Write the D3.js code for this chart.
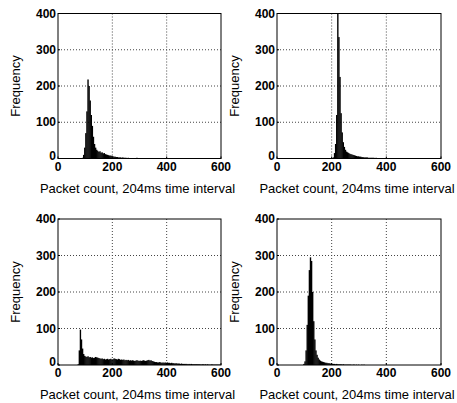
<!DOCTYPE html>
<html>
<head>
<meta charset="utf-8">
<script src="https://cdn.jsdelivr.net/npm/d3@7"></script>
<style>
  html, body { margin: 0; padding: 0; background: #fff; }
  svg { display: block; font-family: "Liberation Sans", Arial, sans-serif; }
</style>
</head>
<body>
<div id="chart"></div>
<script>
// histogram counts, bins of BIN_WIDTH packets starting at the given value
const BIN_WIDTH = 4;

const hist1Start = 88;
const hist1 = [2, 10, 30, 70, 130, 218, 200, 160, 120, 90, 60, 40, 30, 24, 21, 18, 20, 16, 17, 14,
  15, 12, 11, 10, 9, 8, 8, 7, 6, 5, 5, 4, 4, 3, 3, 3, 2, 3, 2, 2,
  2, 1, 2, 1, 1, 1, 1, 1, 1, 1, 2, 1, 1, 1, 0, 1, 0, 1, 0, 0,
  1, 0, 0, 0, 1, 0, 0, 0, 0, 1];

const hist2Start = 204;
const hist2 = [3, 15, 40, 120, 420, 335, 225, 125, 72, 45, 32, 24, 19, 17, 15, 13, 12, 11, 10, 9,
  8, 7, 6, 6, 5, 5, 4, 4, 3, 3, 3, 3, 2, 2, 2, 2, 2, 2, 1, 2,
  1, 1, 1, 1, 1, 1, 1, 1, 1, 1, 0, 1, 1, 0, 1, 0, 1, 0, 0, 1,
  0, 1, 0, 0, 1, 0, 0, 0, 0, 1, 0, 0, 1];

const hist3Start = 72;
const hist3 = [2, 40, 97, 70, 45, 30, 25, 23, 22, 24, 21, 22, 20, 21, 19, 20, 22, 21, 20, 19,
  18, 17, 18, 16, 17, 15, 16, 17, 15, 16, 17, 15, 16, 18, 17, 16, 15, 17, 16, 14,
  15, 14, 15, 13, 14, 13, 14, 12, 13, 12, 13, 12, 11, 12, 13, 12, 11, 12, 11, 12,
  13, 12, 11, 12, 13, 14, 12, 13, 11, 10, 9, 8, 8, 7, 7, 8, 7, 6, 7, 6,
  7, 6, 7, 6, 6, 5, 6, 5, 5, 4, 5, 4, 4, 4, 3, 4, 3, 3, 3, 3,
  3, 2, 3, 2, 3, 2, 2, 2, 2, 2, 2, 2, 2, 1, 2, 2, 1, 2, 1, 2,
  1, 1, 1, 2, 1, 1, 1, 1, 1, 1, 1, 1];

const hist4Start = 96;
const hist4 = [3, 10, 40, 110, 190, 260, 295, 285, 200, 120, 70, 40, 28, 20, 15, 12, 10, 9, 8, 7,
  6, 6, 5, 5, 4, 4, 3, 3, 3, 2, 3, 2, 2, 2, 2, 1, 2, 1, 1, 1,
  1, 1, 1, 1, 0, 1, 1, 0, 1, 0, 1, 0, 0, 1, 0, 1];

const xTicks = [0, 200, 400, 600];
const yTicks = [0, 100, 200, 300, 400];
const xGrid = [200, 400];
const yGrid = [100, 200, 300];
const xTitle = 'Packet count, 204ms time interval';
const yTitle = 'Frequency';

const W = 457, H = 403;

const svg = d3.select('#chart').append('svg')
  .attr('width', W)
  .attr('height', H);

svg.append('rect').attr('width', W).attr('height', H).attr('fill', '#fff');

// plot-area boxes for the four panels
const panels = [
  { counts: hist1, start: hist1Start, x0: 58, x1: 221, y0: 13.5, y1: 158.5 },
  { counts: hist2, start: hist2Start, x0: 277, x1: 441, y0: 13.5, y1: 158.5 },
  { counts: hist3, start: hist3Start, x0: 58, x1: 221, y0: 219, y1: 365 },
  { counts: hist4, start: hist4Start, x0: 277, x1: 441, y0: 219, y1: 365 },
];

panels.forEach((p, i) => drawPanel(p, i));

function drawPanel(p, i) {
  const x = d3.scaleLinear().domain([0, 600]).range([p.x0, p.x1]);
  const y = d3.scaleLinear().domain([0, 400]).range([p.y1, p.y0]);
  const g = svg.append('g');

  const clipId = 'clip' + i;
  g.append('clipPath').attr('id', clipId)
    .append('rect')
    .attr('x', p.x0).attr('y', p.y0)
    .attr('width', p.x1 - p.x0).attr('height', p.y1 - p.y0);

  // dotted grid
  g.selectAll('.gx').data(xGrid).join('line')
    .attr('x1', d => x(d)).attr('x2', d => x(d))
    .attr('y1', p.y0).attr('y2', p.y1)
    .attr('stroke', '#444').attr('stroke-width', 1)
    .attr('stroke-dasharray', '1,2');
  g.selectAll('.gy').data(yGrid).join('line')
    .attr('x1', p.x0).attr('x2', p.x1)
    .attr('y1', d => y(d)).attr('y2', d => y(d))
    .attr('stroke', '#444').attr('stroke-width', 1)
    .attr('stroke-dasharray', '1,2');

  // histogram bars
  const bins = p.counts.map((c, k) => ({ lo: p.start + k * BIN_WIDTH, c }));
  g.append('g').attr('clip-path', `url(#${clipId})`)
    .selectAll('rect').data(bins.filter(b => b.c > 0)).join('rect')
    .attr('x', d => x(d.lo))
    .attr('width', d => x(d.lo + BIN_WIDTH) - x(d.lo) + 0.3)
    .attr('y', d => y(d.c))
    .attr('height', d => y(0) - y(d.c))
    .attr('fill', '#000');

  // box
  g.append('rect')
    .attr('x', p.x0).attr('y', p.y0)
    .attr('width', p.x1 - p.x0).attr('height', p.y1 - p.y0)
    .attr('fill', 'none').attr('stroke', '#000').attr('stroke-width', 1);

  // inward ticks
  g.selectAll('.tx').data(xTicks).join('line')
    .attr('x1', d => x(d)).attr('x2', d => x(d))
    .attr('y1', p.y1).attr('y2', p.y1 - 2)
    .attr('stroke', '#000');
  g.selectAll('.ty').data(yTicks).join('line')
    .attr('x1', p.x0).attr('x2', p.x0 + 2)
    .attr('y1', d => y(d)).attr('y2', d => y(d))
    .attr('stroke', '#000');

  // tick labels
  g.selectAll('.lx').data(xTicks).join('text')
    .attr('x', d => x(d))
    .attr('y', p.y1 + 12)
    .attr('text-anchor', 'middle')
    .attr('font-size', '12px')
    .attr('font-weight', 'bold')
    .text(d => d);
  g.selectAll('.ly').data(yTicks).join('text')
    .attr('x', p.x0 - 2)
    .attr('y', d => y(d) + (d === 0 ? -3 : 0))
    .attr('dy', '0.35em')
    .attr('text-anchor', 'end')
    .attr('font-size', '12px')
    .attr('font-weight', 'bold')
    .text(d => d);

  // axis titles
  g.append('text')
    .attr('x', (p.x0 + p.x1) / 2 - 2)
    .attr('y', p.y1 + 34)
    .attr('text-anchor', 'middle')
    .attr('font-size', '13px')
    .text(xTitle);
  g.append('text')
    .attr('transform', `translate(${p.x0 - 38},${(p.y0 + p.y1) / 2}) rotate(-90)`)
    .attr('text-anchor', 'middle')
    .attr('font-size', '13px')
    .text(yTitle);
}
</script>
</body>
</html>
